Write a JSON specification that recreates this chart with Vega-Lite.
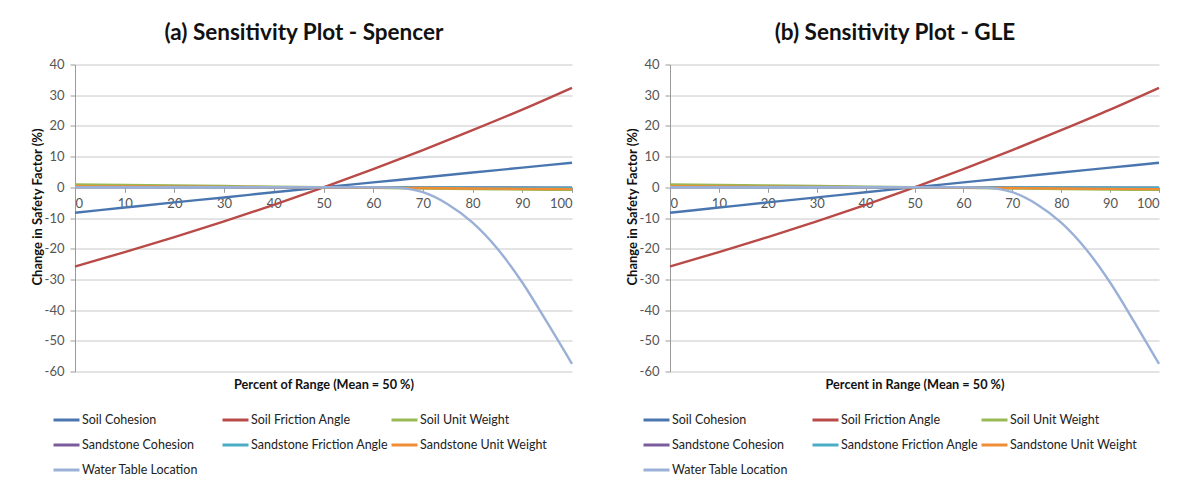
{
  "$schema": "https://vega.github.io/schema/vega-lite/v6.json",
  "background": "white",
  "padding": {"left": 31, "top": 21.5, "right": 5, "bottom": 0},
  "datasets": {
    "sens": [
      {"series": "Soil Cohesion", "x": 0, "y": -8.3},
      {"series": "Soil Cohesion", "x": 10, "y": -6.6},
      {"series": "Soil Cohesion", "x": 20, "y": -4.9},
      {"series": "Soil Cohesion", "x": 30, "y": -3.3},
      {"series": "Soil Cohesion", "x": 40, "y": -1.6},
      {"series": "Soil Cohesion", "x": 50, "y": 0},
      {"series": "Soil Cohesion", "x": 60, "y": 1.6},
      {"series": "Soil Cohesion", "x": 70, "y": 3.2},
      {"series": "Soil Cohesion", "x": 80, "y": 4.8},
      {"series": "Soil Cohesion", "x": 90, "y": 6.4},
      {"series": "Soil Cohesion", "x": 100, "y": 8.0},
      {"series": "Soil Friction Angle", "x": 0, "y": -25.8},
      {"series": "Soil Friction Angle", "x": 10, "y": -21.1},
      {"series": "Soil Friction Angle", "x": 20, "y": -16.2},
      {"series": "Soil Friction Angle", "x": 30, "y": -11.1},
      {"series": "Soil Friction Angle", "x": 40, "y": -5.7},
      {"series": "Soil Friction Angle", "x": 50, "y": 0},
      {"series": "Soil Friction Angle", "x": 60, "y": 5.9},
      {"series": "Soil Friction Angle", "x": 70, "y": 12.1},
      {"series": "Soil Friction Angle", "x": 80, "y": 18.6},
      {"series": "Soil Friction Angle", "x": 90, "y": 25.3},
      {"series": "Soil Friction Angle", "x": 100, "y": 32.4},
      {"series": "Soil Unit Weight", "x": 0, "y": 0.9},
      {"series": "Soil Unit Weight", "x": 10, "y": 0.75},
      {"series": "Soil Unit Weight", "x": 20, "y": 0.58},
      {"series": "Soil Unit Weight", "x": 30, "y": 0.4},
      {"series": "Soil Unit Weight", "x": 40, "y": 0.2},
      {"series": "Soil Unit Weight", "x": 50, "y": 0},
      {"series": "Soil Unit Weight", "x": 60, "y": -0.2},
      {"series": "Soil Unit Weight", "x": 70, "y": -0.4},
      {"series": "Soil Unit Weight", "x": 80, "y": -0.55},
      {"series": "Soil Unit Weight", "x": 90, "y": -0.7},
      {"series": "Soil Unit Weight", "x": 100, "y": -0.85},
      {"series": "Sandstone Cohesion", "x": 0, "y": 0.1},
      {"series": "Sandstone Cohesion", "x": 50, "y": 0},
      {"series": "Sandstone Cohesion", "x": 100, "y": -0.1},
      {"series": "Sandstone Friction Angle", "x": 0, "y": 0.15},
      {"series": "Sandstone Friction Angle", "x": 50, "y": 0},
      {"series": "Sandstone Friction Angle", "x": 100, "y": -0.15},
      {"series": "Sandstone Unit Weight", "x": 0, "y": 0.35},
      {"series": "Sandstone Unit Weight", "x": 10, "y": 0.28},
      {"series": "Sandstone Unit Weight", "x": 20, "y": 0.21},
      {"series": "Sandstone Unit Weight", "x": 30, "y": 0.14},
      {"series": "Sandstone Unit Weight", "x": 40, "y": 0.07},
      {"series": "Sandstone Unit Weight", "x": 50, "y": 0},
      {"series": "Sandstone Unit Weight", "x": 60, "y": -0.12},
      {"series": "Sandstone Unit Weight", "x": 70, "y": -0.25},
      {"series": "Sandstone Unit Weight", "x": 80, "y": -0.38},
      {"series": "Sandstone Unit Weight", "x": 90, "y": -0.5},
      {"series": "Sandstone Unit Weight", "x": 100, "y": -0.6},
      {"series": "Water Table Location", "x": 0, "y": 0},
      {"series": "Water Table Location", "x": 10, "y": 0},
      {"series": "Water Table Location", "x": 20, "y": 0},
      {"series": "Water Table Location", "x": 30, "y": 0},
      {"series": "Water Table Location", "x": 40, "y": 0},
      {"series": "Water Table Location", "x": 50, "y": 0},
      {"series": "Water Table Location", "x": 60, "y": 0},
      {"series": "Water Table Location", "x": 65, "y": -0.2},
      {"series": "Water Table Location", "x": 70, "y": -1.6},
      {"series": "Water Table Location", "x": 75, "y": -5.5},
      {"series": "Water Table Location", "x": 80, "y": -11.5},
      {"series": "Water Table Location", "x": 85, "y": -20},
      {"series": "Water Table Location", "x": 90, "y": -31},
      {"series": "Water Table Location", "x": 95, "y": -44},
      {"series": "Water Table Location", "x": 100, "y": -57.5}
    ]
  },
  "config": {
    "font": "Lato",
    "view": {"stroke": null},
    "concat": {"spacing": 49},
    "axis": {
      "labelFont": "Lato",
      "titleFont": "Lato",
      "labelFontSize": 13,
      "labelColor": "#555555",
      "titleColor": "#111111",
      "titleFontWeight": "bold",
      "domainColor": "#9a9a9a",
      "tickColor": "#9a9a9a",
      "gridColor": "#c8c8c8",
      "domainWidth": 1,
      "tickSize": 5,
      "labelExpr": "'' + datum.value"
    },
    "title": {"font": "Lato", "fontSize": 22.5, "fontWeight": "bold", "color": "#111111", "frame": "bounds", "anchor": "middle", "offset": 14},
    "legend": {
      "orient": "none",
      "direction": "horizontal",
      "columns": 3,
      "gridAlign": "all",
      "symbolType": "stroke",
      "symbolSize": 676,
      "symbolStrokeWidth": 3,
      "labelFont": "Lato",
      "labelFontSize": 12.5,
      "labelColor": "#222222",
      "labelLimit": 300,
      "labelOffset": 1,
      "rowPadding": 4,
      "columnPadding": -4,
      "padding": 0,
      "legendY": 341
    }
  },
  "resolve": {"legend": {"color": "independent"}, "scale": {"color": "independent"}},
  "hconcat": [
    {
      "width": 497,
      "height": 307,
      "title": {"text": "(a) Sensitivity Plot - Spencer"},
      "data": {"name": "sens"},
      "mark": {"type": "line", "strokeWidth": 2.4, "interpolate": "monotone"},
      "encoding": {
        "x": {
          "field": "x", "type": "quantitative",
          "scale": {"domain": [0, 100], "nice": false},
          "axis": {"title": "Percent of Range (Mean = 50 %)", "titleFontSize": 12.7, "values": [0, 10, 20, 30, 40, 50, 60, 70, 80, 90, 100], "offset": -184.2, "titleY": 197, "titleBaseline": "middle", "grid": false, "labelPadding": 5}
        },
        "y": {
          "field": "y", "type": "quantitative",
          "scale": {"domain": [-60, 40], "nice": false},
          "axis": {"title": "Change in Safety Factor (%)", "titleFontSize": 13, "values": [-60, -50, -40, -30, -20, -10, 0, 10, 20, 30, 40], "grid": true, "labelPadding": 6, "titlePadding": 0, "titleY": 142}
        },
        "color": {
          "field": "series", "type": "nominal",
          "scale": {
            "domain": ["Soil Cohesion", "Soil Friction Angle", "Soil Unit Weight", "Sandstone Cohesion", "Sandstone Friction Angle", "Sandstone Unit Weight", "Water Table Location"],
            "range": ["#4a76b0", "#b84a48", "#98b954", "#7b5c9d", "#4bacc6", "#f08c36", "#9ab0d6"]
          },
          "legend": {"title": null, "legendX": -23}
        }
      }
    },
    {
      "width": 489,
      "height": 307,
      "title": {"text": "(b) Sensitivity Plot - GLE"},
      "data": {"name": "sens"},
      "mark": {"type": "line", "strokeWidth": 2.4, "interpolate": "monotone"},
      "encoding": {
        "x": {
          "field": "x", "type": "quantitative",
          "scale": {"domain": [0, 100], "nice": false},
          "axis": {"title": "Percent in Range (Mean = 50 %)", "titleFontSize": 12.7, "values": [0, 10, 20, 30, 40, 50, 60, 70, 80, 90, 100], "offset": -184.2, "titleY": 197, "titleBaseline": "middle", "grid": false, "labelPadding": 5}
        },
        "y": {
          "field": "y", "type": "quantitative",
          "scale": {"domain": [-60, 40], "nice": false},
          "axis": {"title": "Change in Safety Factor (%)", "titleFontSize": 13, "values": [-60, -50, -40, -30, -20, -10, 0, 10, 20, 30, 40], "grid": true, "labelPadding": 6, "titlePadding": 0, "titleY": 142}
        },
        "color": {
          "field": "series", "type": "nominal",
          "scale": {
            "domain": ["Soil Cohesion", "Soil Friction Angle", "Soil Unit Weight", "Sandstone Cohesion", "Sandstone Friction Angle", "Sandstone Unit Weight", "Water Table Location"],
            "range": ["#4a76b0", "#b84a48", "#98b954", "#7b5c9d", "#4bacc6", "#f08c36", "#9ab0d6"]
          },
          "legend": {"title": null, "legendX": -28}
        }
      }
    }
  ]
}
